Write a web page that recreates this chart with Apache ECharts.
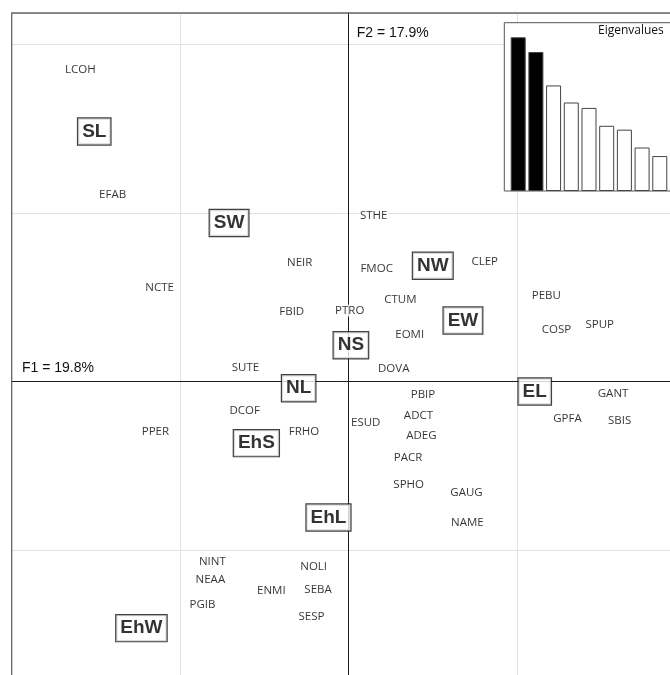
<!DOCTYPE html>
<html>
<head>
<meta charset="utf-8">
<title>Species and habitat groups on F1 × F2</title>
<script src="https://cdn.jsdelivr.net/npm/echarts@6/dist/echarts.min.js"></script>
<style>
  html, body { margin: 0; padding: 0; background: #fff; }
  #chart { width: 670px; height: 675px; }
</style>
</head>
<body>
<div id="chart"></div>
<script>
// Species scores on the first two factorial axes
const speciesNames = ['LCOH', 'EFAB', 'STHE', 'NEIR', 'NCTE', 'FBID', 'PTRO', 'FMOC', 'CLEP', 'CTUM',
  'EOMI', 'PEBU', 'COSP', 'SPUP', 'DOVA', 'SUTE', 'GANT', 'PBIP', 'ADCT', 'ADEG',
  'ESUD', 'GPFA', 'SBIS', 'DCOF', 'PPER', 'FRHO', 'PACR', 'SPHO', 'GAUG', 'NAME',
  'NINT', 'NEAA', 'NOLI', 'ENMI', 'SEBA', 'PGIB', 'SESP'];
const speciesF1 = [-1.593, -1.401, 0.148, -0.291, -1.122, -0.338, 0.006, 0.166, 0.807, 0.307,
  0.362, 1.173, 1.233, 1.490, 0.267, -0.613, 1.569, 0.441, 0.414, 0.431,
  0.101, 1.298, 1.608, -0.617, -1.147, -0.265, 0.352, 0.356, 0.699, 0.704,
  -0.809, -0.821, -0.208, -0.459, -0.182, -0.868, -0.221];
const speciesF2 = [1.861, 1.119, 0.994, 0.715, 0.564, 0.424, 0.430, 0.678, 0.717, 0.494,
  0.286, 0.519, 0.316, 0.345, 0.082, 0.088, -0.064, -0.070, -0.195, -0.313,
  -0.233, -0.209, -0.224, -0.165, -0.288, -0.292, -0.446, -0.604, -0.654, -0.832,
  -1.059, -1.168, -1.093, -1.233, -1.227, -1.313, -1.386];

// Group centroids
const groupNames = ['SL', 'SW', 'NW', 'EW', 'NS', 'NL', 'EL', 'EhS', 'EhL', 'EhW'];
const groupF1 = [-1.510, -0.710, 0.499, 0.678, 0.013, -0.297, 1.104, -0.548, -0.120, -1.230];
const groupF2 = [1.493, 0.950, 0.696, 0.371, 0.224, -0.031, -0.050, -0.357, -0.798, -1.455];

// Eigenvalues (% of inertia), in rank order
const eigenPct = [19.8, 17.9, 13.6, 11.4, 10.7, 8.4, 7.9, 5.6, 4.5];
const keptAxes = 2;

const axisTitles = ['F1 = 19.8%', 'F2 = 17.9%'];
const insetTitle = 'Eigenvalues';

const chart = echarts.init(document.getElementById('chart'), null, { renderer: 'canvas' });

const speciesData = speciesNames.map((n, i) => ({ name: n, value: [speciesF1[i], speciesF2[i]] }));
const groupData = groupNames.map((n, i) => ({ name: n, value: [groupF1[i], groupF2[i]] }));
const eigenData = eigenPct.map((v, i) => ({
  value: [i + 1, v],
  itemStyle: { color: i < keptAxes ? '#000' : '#fff' }
}));

const option = {
  backgroundColor: '#fff',
  animation: false,
  grid: [
    {
      left: 11.7, top: 13, width: 707.7, height: 705.5, outerBoundsMode: 'none', containLabel: false,
      z: 1, show: true, borderColor: '#666', borderWidth: 1.3, backgroundColor: 'transparent'
    },
    {
      left: 504.3, top: 22.7, width: 250, height: 168.3, z: 3, outerBoundsMode: 'none', containLabel: false,
      show: true, borderColor: '#555', borderWidth: 1, backgroundColor: '#fff'
    }
  ],
  xAxis: [
    {
      gridIndex: 0, type: 'value', min: -2, max: 2.2, interval: 1,
      axisLabel: { show: false }, axisTick: { show: false },
      axisLine: { show: true, onZero: true, lineStyle: { color: '#1a1a1a', width: 1 } },
      splitLine: { show: true, lineStyle: { color: '#e2e2e2', width: 1 } }
    },
    {
      gridIndex: 1, type: 'value', min: 0.215, max: 14.34, show: false,
      splitLine: { show: false }
    }
  ],
  yAxis: [
    {
      gridIndex: 0, type: 'value', min: -2, max: 2.187, interval: 1,
      axisLabel: { show: false }, axisTick: { show: false },
      axisLine: { show: true, onZero: true, lineStyle: { color: '#1a1a1a', width: 1 } },
      splitLine: { show: true, lineStyle: { color: '#e2e2e2', width: 1 } }
    },
    {
      gridIndex: 1, type: 'value', min: 0, max: 21.68, show: false,
      splitLine: { show: false }
    }
  ],
  graphic: [
    {
      type: 'text', left: 22, top: 361, z: 10,
      style: { text: axisTitles[0], font: '14px "Liberation Sans", Arial, sans-serif', fill: '#111' }
    },
    {
      type: 'text', left: 356.7, top: 26, z: 10,
      style: { text: axisTitles[1], font: '14px "Liberation Sans", Arial, sans-serif', fill: '#111' }
    },
    {
      type: 'text', left: 598, top: 25, z: 10,
      style: { text: insetTitle, font: '12px "Open Sans", sans-serif', fill: '#111' }
    }
  ],
  series: [
    {
      type: 'scatter', xAxisIndex: 0, yAxisIndex: 0, z: 4,
      symbolSize: 1, itemStyle: { color: 'rgba(0,0,0,0)' },
      data: speciesData,
      label: {
        show: true, position: 'inside', formatter: '{b}', offset: [0, 1.5],
        fontFamily: '"Open Sans", sans-serif', fontSize: 11.5, color: '#000',
        backgroundColor: '#fff', padding: [0, 1]
      },
      silent: true
    },
    {
      type: 'scatter', xAxisIndex: 0, yAxisIndex: 0, z: 5,
      symbolSize: 1, itemStyle: { color: 'rgba(0,0,0,0)' },
      data: groupData,
      label: {
        show: true, position: 'inside', formatter: '{b}', offset: [0, 1.5],
        fontFamily: '"Liberation Sans", Arial, sans-serif', fontSize: 19, fontWeight: 'bold',
        color: '#000', lineHeight: 21,
        backgroundColor: '#fff', borderColor: '#111', borderWidth: 1.2, padding: [3, 4, 2, 4]
      },
      silent: true
    },
    {
      type: 'bar', xAxisIndex: 1, yAxisIndex: 1, z: 6,
      barWidth: 15,
      data: eigenData,
      itemStyle: { borderColor: '#444', borderWidth: 1 },
      silent: true
    }
  ]
};

chart.setOption(option);
</script>
</body>
</html>
